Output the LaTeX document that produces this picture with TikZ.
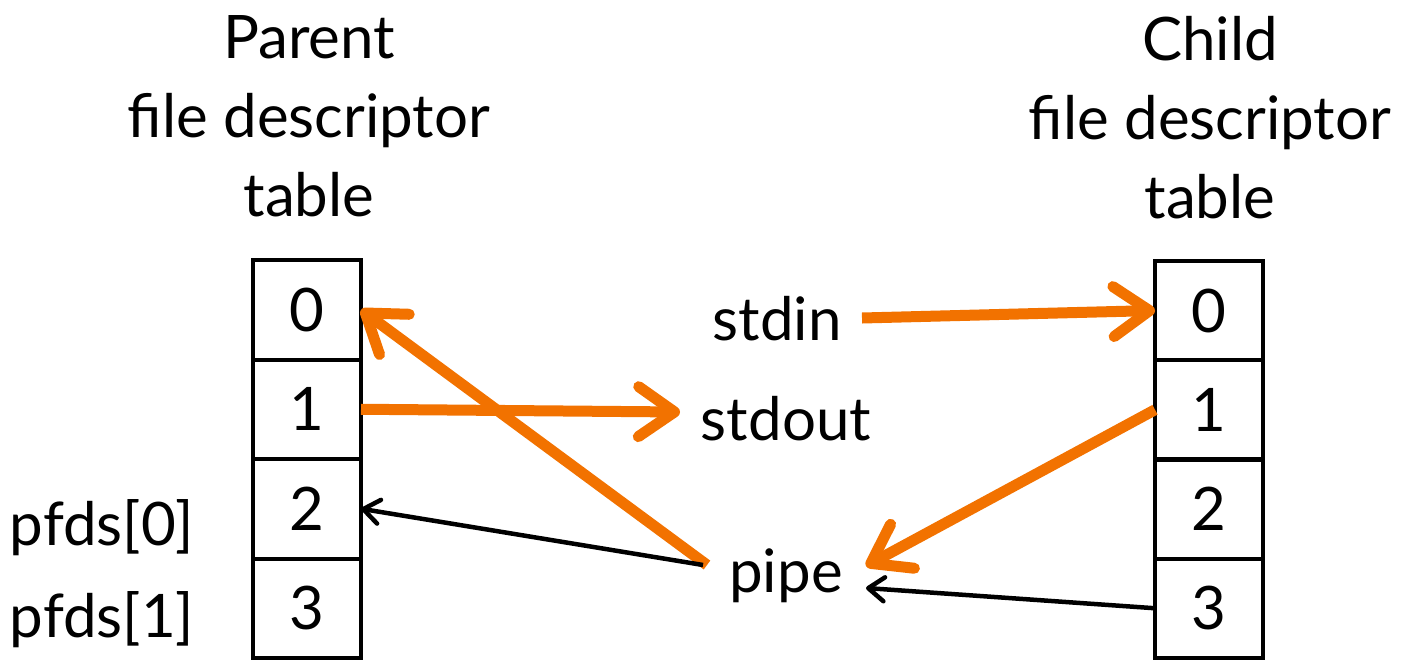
\documentclass[tikz,border=0pt]{standalone}
\usepackage{fontspec}
\setmainfont{Lato}
\usetikzlibrary{arrows.meta,calc}
\definecolor{fdorange}{RGB}{242,114,0}
\begin{document}
\begin{tikzpicture}[x=1pt,y=-1pt,
  every node/.style={font=\fontsize{60}{79}\selectfont, inner sep=0pt, outer sep=0pt},
  cell/.style={draw, line width=4pt, minimum width=108pt, minimum height=99.5pt},
  title/.style={align=center, anchor=north},
  fdlink/.style={draw=fdorange, line width=11pt,
    -{Straight Barb[round, length=36pt, width=50pt]}},
  thinlink/.style={draw=black, line width=4.5pt,
    -{Straight Barb[round, length=16pt, width=24pt]}}]
\useasboundingbox (0,0) rectangle (1403,662);

% titles
\node[title] (ptitle) at (309,16) {Parent\\file descriptor\\table};
\node[title] (ctitle) at (1210,16) {Child\\file descriptor\\table};

% parent table
\node[cell] (p0) at (307,309.75) {0};
\node[cell] (p1) at (307,409.25) {1};
\node[cell] (p2) at (307,508.75) {2};
\node[cell] (p3) at (307,608.25) {3};

% child table
\node[cell] (c0) at (1209,310.5) {0};
\node[cell] (c1) at (1209,409.75) {1};
\node[cell] (c2) at (1209,509) {2};
\node[cell] (c3) at (1209,608.25) {3};

% side labels
\node[anchor=base] (pfd0) at (102,545) {pfds[0]};
\node[anchor=base] (pfd1) at (102,637) {pfds[1]};

% streams
\node[anchor=base] (stdin) at (777,340) {stdin};
\node[anchor=base] (stdout) at (786,440) {stdout};
\node[anchor=base] (pipe) at (786,592) {pipe};

% connectors
\draw[fdlink] ($(pipe.base)+(-79,-27)$) -- (p0.east);
\draw[fdlink] (p1.east) -- ($(stdout.base)+(-106,-28)$);
\draw[fdlink] ($(stdin.base)+(85,-22)$) -- (c0.west);
\draw[fdlink] (c1.west) -- ($(pipe.base)+(80,-26)$);
\draw[thinlink] ($(pipe.base)+(-83,-27)$) -- (p2.east);
\draw[thinlink] (c3.west) -- ($(pipe.base)+(80,-4)$);
\end{tikzpicture}
\end{document}
